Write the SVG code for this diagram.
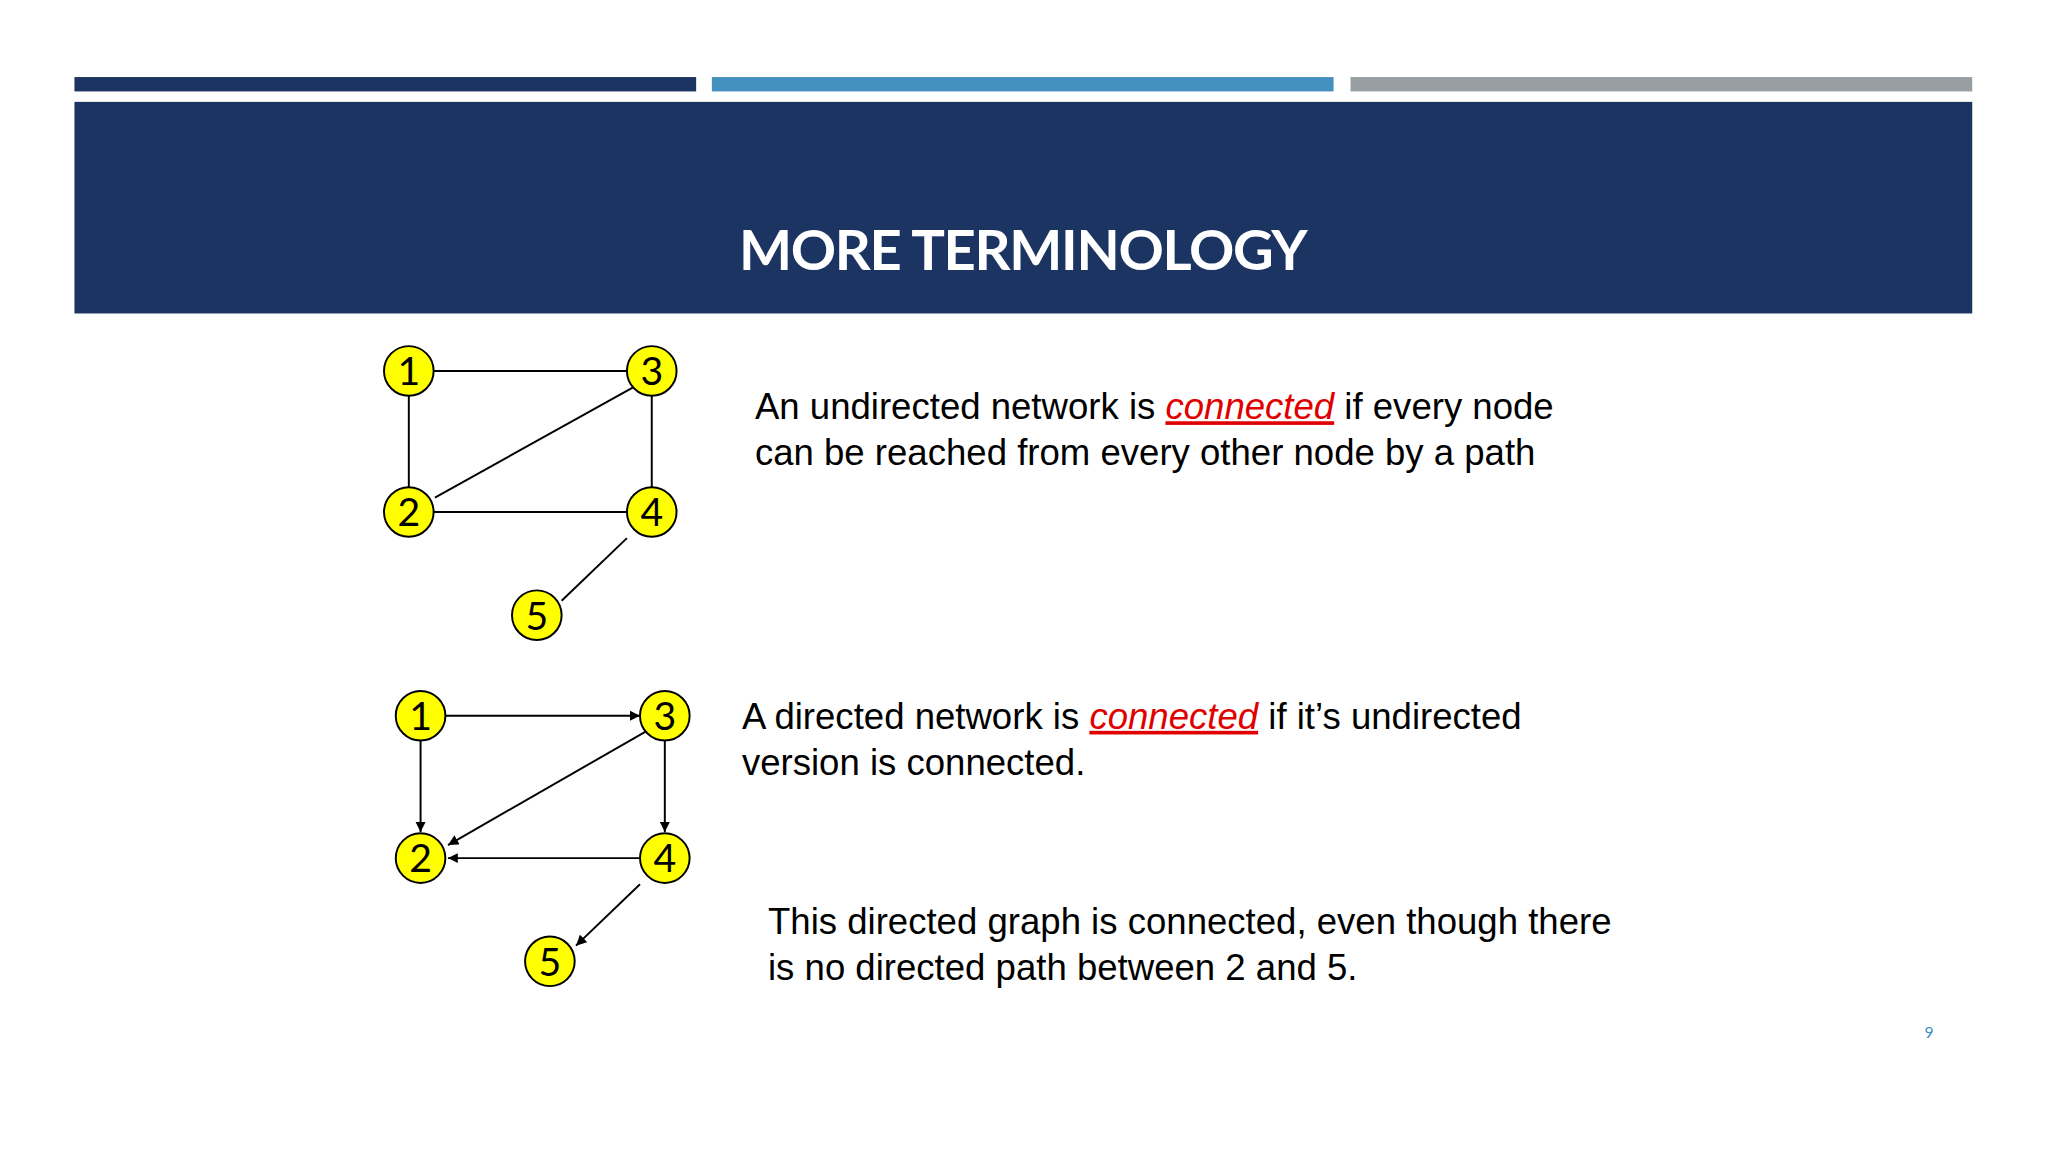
<svg xmlns="http://www.w3.org/2000/svg" width="2048" height="1152" viewBox="0 0 2048 1152">
<style>
.n circle{fill:#ffff00;stroke:#000;stroke-width:1.5}
.n text{font-family:Lato,"Open Sans",sans-serif;font-size:30px;text-anchor:middle;fill:#000}
.e line{stroke:#000;stroke-width:1.5}
.t{font-family:"Liberation Sans",Arial,sans-serif;font-size:28px;fill:#000}
.r{fill:#e00000;font-style:italic;text-decoration:underline}
</style>
<defs><marker id="a" viewBox="0 0 10 10" refX="10" refY="5" markerWidth="8" markerHeight="8" markerUnits="userSpaceOnUse" orient="auto"><path d="M0,0L10,5L0,10z" fill="#000"/></marker>
<marker id="b" viewBox="0 0 10 10" refX="10" refY="5" markerWidth="5" markerHeight="5" orient="auto"><path d="M0,0L10,5L0,10z" fill="#000"/></marker></defs>
<rect width="2048" height="1152" fill="#fff"/>
<g transform="scale(1.30612)">
<rect x="57" y="59" width="476" height="11" fill="#1c3461"/>
<rect x="545" y="59" width="476" height="11" fill="#4490bf"/>
<rect x="1034" y="59" width="476" height="11" fill="#989fa3"/>
<rect x="57" y="78" width="1453" height="162" fill="#1c3461"/>
<text x="783" y="207" font-family="Lato,sans-serif" font-weight="bold" font-size="43" fill="#fff" text-anchor="middle" letter-spacing="-1">MORE TERMINOLOGY</text>
<g id="connectors" class="e">
<line x1="313" y1="284" x2="499" y2="284"/><line x1="313" y1="284" x2="313" y2="392"/><line x1="499" y1="284" x2="499" y2="392"/><line x1="313" y1="392" x2="499" y2="392"/><line x1="333" y1="381" x2="493" y2="292"/><line x1="480" y1="412" x2="430" y2="460"/>
<line x1="341" y1="548" x2="490" y2="548" marker-end="url(#a)"/><line x1="322" y1="567" x2="322" y2="637" marker-end="url(#a)"/><line x1="509" y1="567" x2="509" y2="637" marker-end="url(#a)"/><line x1="498" y1="558" x2="343" y2="647" marker-end="url(#a)"/><line x1="490" y1="657" x2="343" y2="657" stroke-width="3" marker-end="url(#b)"/><line x1="490" y1="677" x2="441" y2="724" marker-end="url(#a)"/>
</g>
<g id="n1" class="n"><circle cx="313" cy="284" r="19"/><text x="313" y="295">1</text></g>
<g id="n3" class="n"><circle cx="499" cy="284" r="19"/><text x="499" y="295">3</text></g>
<g id="n2" class="n"><circle cx="313" cy="392" r="19"/><text x="313" y="403">2</text></g>
<g id="n4" class="n"><circle cx="499" cy="392" r="19"/><text x="499" y="403">4</text></g>
<g id="n5" class="n"><circle cx="411" cy="471" r="19"/><text x="411" y="482">5</text></g>
<g id="d1" class="n"><circle cx="322" cy="548" r="19"/><text x="322" y="559">1</text></g>
<g id="d3" class="n"><circle cx="509" cy="548" r="19"/><text x="509" y="559">3</text></g>
<g id="d2" class="n"><circle cx="322" cy="657" r="19"/><text x="322" y="668">2</text></g>
<g id="d4" class="n"><circle cx="509" cy="657" r="19"/><text x="509" y="668">4</text></g>
<g id="d5" class="n"><circle cx="421" cy="736" r="19"/><text x="421" y="747">5</text></g>
<text class="t" x="578" y="321">An undirected network is <tspan class="r">connected</tspan> if every node</text>
<text class="t" x="578" y="356">can be reached from every other node by a path</text>
<text class="t" x="568" y="558">A directed network is <tspan class="r">connected</tspan> if it’s undirected</text>
<text class="t" x="568" y="593">version is connected.</text>
<text class="t" x="588" y="715">This directed graph is connected, even though there</text>
<text class="t" x="588" y="750">is no directed path between 2 and 5.</text>
<text x="1477" y="795" font-family="Lato,sans-serif" font-size="12" fill="#4490bf" text-anchor="middle">9</text>
</g>
</svg>
